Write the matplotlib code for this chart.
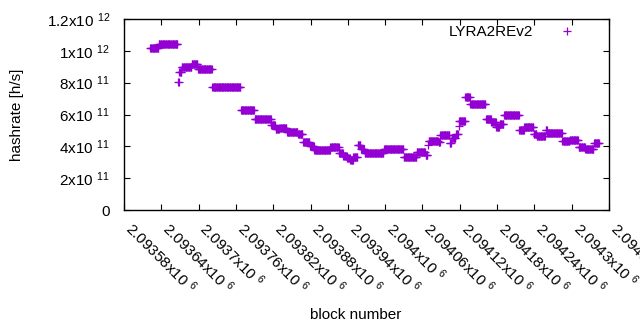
import numpy as np
import matplotlib
matplotlib.use('Agg')
from matplotlib import pyplot as plt

# step segments of the hashrate: first block, last block, hashrate (x1e11 h/s)
seg_start = [2093622, 2093636, 2093667, 2093669, 2093673, 2093689, 2093699, 2093722,
             2093768, 2093790, 2093817, 2093824, 2093830, 2093842, 2093860, 2093868,
             2093879, 2093886, 2093912, 2093926, 2093933, 2093939, 2093944, 2093949,
             2093956, 2093961, 2093967, 2093998, 2094030, 2094038, 2094051, 2094065,
             2094069, 2094070, 2094086, 2094089, 2094104, 2094107, 2094114, 2094118,
             2094119, 2094129, 2094137, 2094162, 2094171, 2094179, 2094184, 2094191,
             2094216, 2094224, 2094239, 2094244, 2094258, 2094261, 2094285, 2094297,
             2094311, 2094322, 2094336]
seg_end = [2093635, 2093666, 2093668, 2093672, 2093688, 2093698, 2093721, 2093767,
           2093789, 2093816, 2093823, 2093829, 2093841, 2093859, 2093867, 2093878,
           2093885, 2093911, 2093925, 2093932, 2093938, 2093943, 2093948, 2093955,
           2093960, 2093966, 2093997, 2094029, 2094037, 2094050, 2094064, 2094068,
           2094069, 2094085, 2094088, 2094103, 2094106, 2094113, 2094117, 2094118,
           2094128, 2094136, 2094161, 2094170, 2094178, 2094183, 2094190, 2094215,
           2094223, 2094238, 2094243, 2094257, 2094260, 2094284, 2094296, 2094310,
           2094321, 2094335, 2094344]
seg_value = [10.15, 10.41, 8.02, 8.67, 9.00, 9.15, 8.84, 7.71,
             6.26, 5.70, 5.31, 5.07, 5.15, 4.88, 4.77, 4.29,
             4.05, 3.75, 3.94, 3.56, 3.39, 3.25, 3.11, 3.35,
             4.08, 3.85, 3.56, 3.81, 3.35, 3.30, 3.62, 3.46,
             4.08, 4.35, 4.27, 4.71, 4.20, 4.50, 4.77, 5.30,
             5.57, 7.12, 6.64, 5.70, 5.51, 5.23, 5.38, 5.95,
             5.02, 5.19, 4.77, 4.67, 5.00, 4.82, 4.35, 4.38,
             3.98, 3.83, 4.19]

xticks = [2093580, 2093640, 2093700, 2093760, 2093820, 2093880, 2093940,
          2094000, 2094060, 2094120, 2094180, 2094240, 2094300, 2094360]
xtick_labels = ['2.09358x10 $^{6}$', '2.09364x10 $^{6}$', '2.0937x10 $^{6}$', '2.09376x10 $^{6}$',
                '2.09382x10 $^{6}$', '2.09388x10 $^{6}$', '2.09394x10 $^{6}$', '2.094x10 $^{6}$',
                '2.09406x10 $^{6}$', '2.09412x10 $^{6}$', '2.09418x10 $^{6}$', '2.09424x10 $^{6}$',
                '2.0943x10 $^{6}$', '2.09436x10 $^{6}$']
yticks = [0, 2e11, 4e11, 6e11, 8e11, 1e12, 1.2e12]
ytick_labels = ['0', '2x10 $^{11}$', '4x10 $^{11}$', '6x10 $^{11}$', '8x10 $^{11}$',
                '1x10 $^{12}$', '1.2x10 $^{12}$']

plt.rcParams['font.family'] = ['Liberation Sans', 'DejaVu Sans']
plt.rcParams['mathtext.fontset'] = 'custom'
plt.rcParams['mathtext.rm'] = 'Liberation Sans'
plt.rcParams['mathtext.default'] = 'regular'
plt.rcParams['font.size'] = 11

blocks = np.concatenate([np.arange(s, e + 1) for s, e in zip(seg_start, seg_end)])
rates = np.concatenate([np.full(e - s + 1, v * 1e11) for s, e, v in zip(seg_start, seg_end, seg_value)])

fig = plt.figure(figsize=(6.4, 3.3), dpi=100)
ax = fig.add_axes([124 / 640, 1 - 210 / 330, 485 / 640, 191 / 330])

ax.plot(blocks, rates, '+', color='#9400d3', markersize=5.5, markeredgewidth=0.9,
        label='LYRA2REv2')

ax.set_xlim(xticks[0], xticks[-1])
ax.set_ylim(0, 1.2e12)
ax.set_xticks(xticks)
ax.set_xticklabels(xtick_labels, rotation=-45, ha='left', va='baseline', rotation_mode='anchor')
ax.set_yticks(yticks)
ax.set_yticklabels(ytick_labels)
ax.tick_params(direction='in', length=4, width=0.8, top=True, right=True, color='black')
ax.tick_params(axis='y', pad=10)
ax.tick_params(axis='x', pad=14)
for sp in ax.spines.values():
    sp.set_linewidth(1)

fig.text(17 / 640, 1 - 115 / 330, 'hashrate [h/s]', rotation=90, ha='center', va='center')
fig.text(356 / 640, 1 - 315 / 330, 'block number', ha='center', va='center')

ax.legend(loc='upper right', bbox_to_anchor=(0.942, 1.0), frameon=False, markerfirst=False,
          handlelength=1.0, handletextpad=1.73, borderaxespad=0, borderpad=0.4, fontsize=11)

fig.savefig('out.png', dpi=100)
